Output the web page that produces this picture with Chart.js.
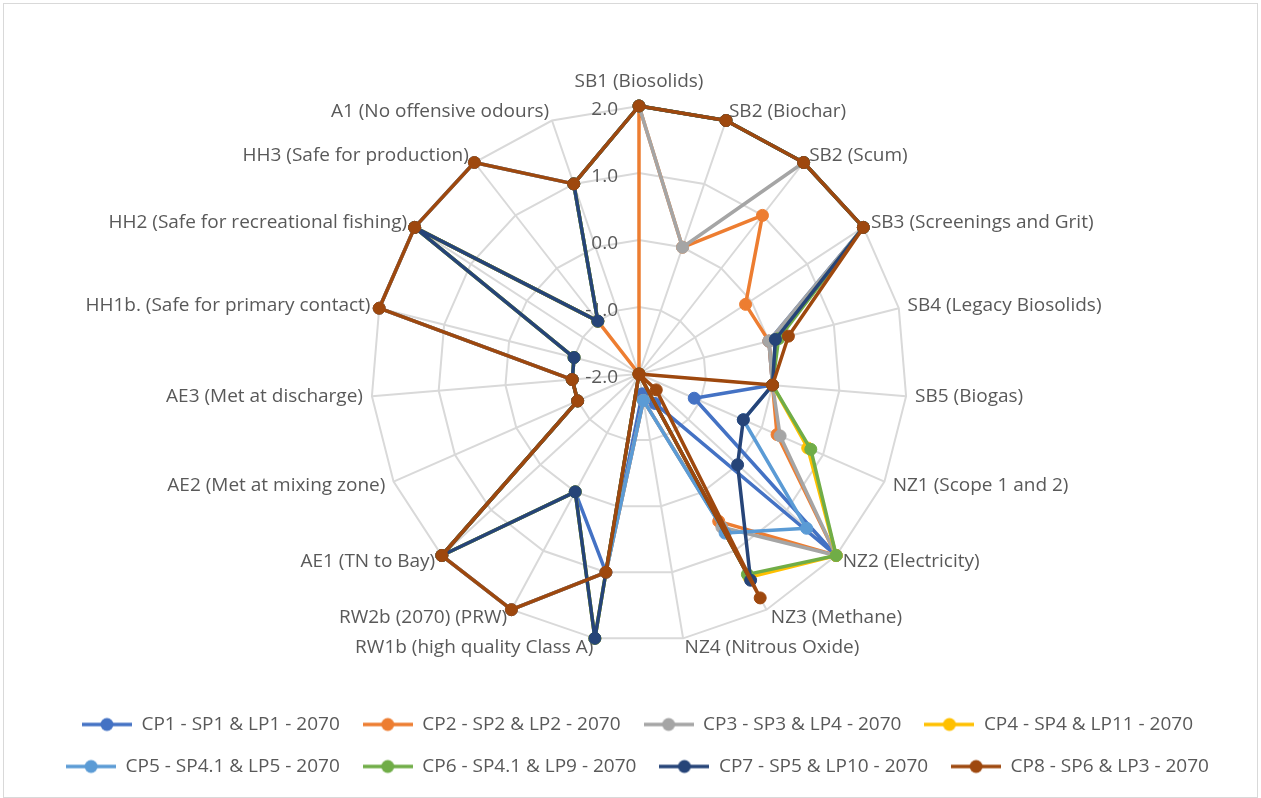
<!DOCTYPE html>
<html>
<head>
<meta charset="utf-8">
<title>Scenario scores 2070</title>
<script src="https://cdn.jsdelivr.net/npm/chart.js@4.4.1/dist/chart.umd.min.js"></script>
<style>
  html, body { margin: 0; padding: 0; background: #ffffff; }
  #wrap { position: relative; width: 1261px; height: 798px; }
  #c { position: absolute; left: 0; top: 0; }
  #frame { position: absolute; left: 3px; top: 3px; width: 1253px; height: 793px;
           border: 1px solid #d9d9d9; pointer-events: none; }
</style>
</head>
<body>
<div id="wrap">
  <canvas id="c" width="1261" height="798"></canvas>
  <div id="frame"></div>
</div>
<script>
// ---- data -------------------------------------------------------------
const categories = [
  'SB1 (Biosolids)',
  'SB2 (Biochar)',
  'SB2 (Scum)',
  'SB3 (Screenings and Grit)',
  'SB4 (Legacy Biosolids)',
  'SB5 (Biogas)',
  'NZ1 (Scope 1 and 2)',
  'NZ2 (Electricity)',
  'NZ3 (Methane)',
  'NZ4 (Nitrous Oxide)',
  'RW1b (high quality Class A)',
  'RW2b (2070) (PRW)',
  'AE1 (TN to Bay)',
  'AE2 (Met at mixing zone)',
  'AE3 (Met at discharge)',
  'HH1b. (Safe for primary contact)',
  'HH2 (Safe for recreational fishing)',
  'HH3 (Safe for production)',
  'A1 (No offensive odours)'
];

const seriesNames = [
  'CP1 - SP1 & LP1 - 2070',
  'CP2 - SP2 & LP2 - 2070',
  'CP3 - SP3 & LP4 - 2070',
  'CP4 - SP4 & LP11 - 2070',
  'CP5 - SP4.1 & LP5 - 2070',
  'CP6 - SP4.1 & LP9 - 2070',
  'CP7 - SP5 & LP10 - 2070',
  'CP8 - SP6 & LP3 - 2070'
];

const cp1 = [2, 2, 2, 2, 0, 0, -1.1, 2, -1.5, -1.7, 1, 0, 2, -1, -1, -1, 2, -1, 1];
const cp2 = [2, 0, 1, -0.1, 0, 0, 0.25, 2, 0.5, -1.6, 1, 2, 2, -1, -1, 2, 2, -1, -2];
const cp3 = [2, 0, 2, 2, 0, 0, 0.3, 2, 0.6, -1.6, 1, 2, 2, -1, -1, 2, 2, 2, 1];
const cp4 = [2, 2, 2, 2, 0.1, 0, 0.75, 2, 1.45, -2, 2, 0, 2, -1, -1, -1, 2, -1, 1];
const cp5 = [2, 2, 2, 2, 0.1, 0, -0.3, 1.4, 0.7, -1.6, 1, 2, 2, -1, -1, 2, 2, 2, 1];
const cp6 = [2, 2, 2, 2, 0.15, 0, 0.8, 2, 1.4, -2, 2, 0, 2, -1, -1, -1, 2, -1, 1];
const cp7 = [2, 2, 2, 2, 0.1, 0, -0.3, 0, 1.5, -2, 2, 0, 2, -1, -1, -1, 2, -1, 1];
const cp8 = [2, 2, 2, 2, 0.3, 0, -2, -1.65, 1.8, -2, 1, 2, 2, -1, -1, 2, 2, 2, 1];

const scaleTicks = [-2, -1, 0, 1, 2];

// ---- styling ----------------------------------------------------------
const seriesValues = [cp1, cp2, cp3, cp4, cp5, cp6, cp7, cp8];
const seriesColors = ['#4472C4', '#ED7D31', '#A5A5A5', '#FFC000',
                      '#5B9BD5', '#70AD47', '#264478', '#9E480E'];

const FONT_FAMILY = '"Open Sans", "DejaVu Sans", sans-serif';
const FONT_SIZE = 19;
const TEXT_COLOR = '#595959';
const GRID_COLOR = '#D9D9D9';
const RADAR_RADIUS = 268;   // radius of the outer ring in px
const LABEL_GAP = 9;        // distance between outer ring and category text

// legend symbol: short line with a round marker in the middle
function legendIcon(color) {
  const c = document.createElement('canvas');
  c.width = 50; c.height = 16;
  const g = c.getContext('2d');
  g.strokeStyle = color;
  g.lineWidth = 3.5;
  g.beginPath(); g.moveTo(0, 8); g.lineTo(50, 8); g.stroke();
  g.fillStyle = color;
  g.beginPath(); g.arc(25, 8, 6.5, 0, Math.PI * 2); g.fill();
  return c;
}
const legendIcons = seriesColors.map(legendIcon);

// value labels left of the vertical axis and category names round the web
const radarText = {
  id: 'radarText',
  beforeDatasetsDraw(chart) {
    const s = chart.scales.r;
    const ctx = chart.ctx;
    ctx.save();
    ctx.font = FONT_SIZE + 'px ' + FONT_FAMILY;
    ctx.fillStyle = TEXT_COLOR;
    ctx.textBaseline = 'middle';

    ctx.textAlign = 'right';
    s.ticks.forEach(t => {
      const d = s.getDistanceFromCenterForValue(t.value);
      ctx.fillText(t.value.toFixed(1), s.xCenter - 21, s.yCenter - d + 4);
    });

    categories.forEach((label, i) => {
      const p = s.getPointPosition(i, s.drawingArea + LABEL_GAP);
      const dx = p.x - s.xCenter;
      const dy = p.y - s.yCenter;
      const sx = dx / Math.hypot(dx, dy);
      let y = p.y;
      if (sx > 0.05) ctx.textAlign = 'left';
      else if (sx < -0.05) ctx.textAlign = 'right';
      else { ctx.textAlign = 'center'; y += dy < 0 ? -15 : 15; }
      ctx.fillText(label, p.x, y);
    });
    ctx.restore();
  }
};

const datasets = seriesNames.map((name, i) => ({
  label: name,
  data: seriesValues[i],
  borderColor: seriesColors[i],
  backgroundColor: seriesColors[i],
  pointBackgroundColor: seriesColors[i],
  pointBorderColor: seriesColors[i],
  borderWidth: 3.5,
  pointRadius: 6,
  pointBorderWidth: 1,
  fill: false,
  tension: 0,
  order: seriesNames.length - i   // later series are painted on top
}));

new Chart(document.getElementById('c'), {
  type: 'radar',
  data: { labels: categories, datasets },
  plugins: [radarText],
  options: {
    responsive: false,
    animation: false,
    devicePixelRatio: 1,
    layout: { padding: { left: 14, right: 0, top: 56, bottom: 12 } },
    elements: { line: { borderJoinStyle: 'round' } },
    scales: {
      r: {
        min: scaleTicks[0],
        max: scaleTicks[scaleTicks.length - 1],
        ticks: { stepSize: 1, display: false },
        grid: { color: GRID_COLOR, lineWidth: 2, circular: false },
        angleLines: { color: GRID_COLOR, lineWidth: 2 },
        pointLabels: { display: false },
        afterFit(scale) {
          scale.xCenter = Math.floor(scale.xCenter) + 2;
          scale.drawingArea = RADAR_RADIUS;
        }
      }
    },
    plugins: {
      tooltip: { enabled: false },
      legend: {
        position: 'bottom',
        labels: {
          usePointStyle: true,
          pointStyleWidth: 50,
          padding: 23,
          color: TEXT_COLOR,
          font: { family: FONT_FAMILY, size: FONT_SIZE },
          sort: (a, b) => a.datasetIndex - b.datasetIndex,
          generateLabels(chart) {
            return Chart.defaults.plugins.legend.labels.generateLabels(chart)
              .map(item => Object.assign(item, { pointStyle: legendIcons[item.datasetIndex] }));
          }
        }
      }
    }
  }
});
</script>
</body>
</html>
